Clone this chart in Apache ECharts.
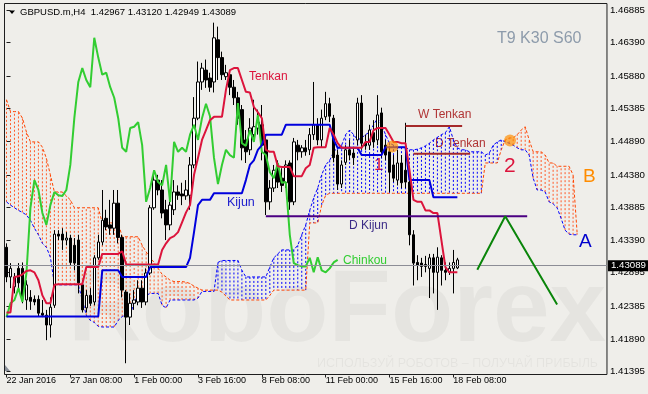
<!DOCTYPE html>
<html><head><meta charset="utf-8">
<script src="https://cdn.jsdelivr.net/npm/echarts@6/dist/echarts.min.js"></script>
<style>html,body{margin:0;padding:0;background:#efeeea;}#c{width:648px;height:394px;}</style>
</head><body><div id="c"></div>
<script>
// ---- data (GBPUSD.m H4) ----
// candles: [open, close, low, high]
const candles = [
[1.4328,1.4283,1.4275,1.4334],[1.4283,1.4296,1.4266,1.4304],[1.4268,1.4283,1.4258,1.4289],[1.4296,1.4274,1.4263,1.4304],
[1.4296,1.4251,1.4243,1.4305],[1.4248,1.4271,1.4233,1.4278],[1.4252,1.4246,1.4233,1.4263],[1.4249,1.4245,1.4240,1.4255],
[1.4249,1.4228,1.4223,1.4255],[1.4228,1.4225,1.4222,1.4248],[1.4225,1.4210,1.4187,1.4233],[1.4210,1.4237,1.4191,1.4252],
[1.4240,1.4348,1.4236,1.4354],[1.4348,1.4345,1.4339,1.4354],[1.4348,1.4339,1.4324,1.4357],[1.4339,1.4342,1.4331,1.4351],
[1.4342,1.4305,1.4301,1.4347],[1.4331,1.4304,1.4293,1.4342],[1.4339,1.4274,1.4258,1.4347],[1.4271,1.4233,1.4229,1.4278],
[1.4236,1.4255,1.4229,1.4263],[1.4255,1.4243,1.4239,1.4266],[1.4245,1.4312,1.4240,1.4316],[1.4312,1.4336,1.4309,1.4347],
[1.4336,1.4369,1.4331,1.4415],[1.4372,1.4359,1.4354,1.4385],[1.4362,1.4357,1.4347,1.4400],[1.4357,1.4395,1.4347,1.4415],
[1.4395,1.4343,1.4334,1.4415],[1.4343,1.4263,1.4252,1.4347],[1.4260,1.4222,1.4152,1.4263],[1.4222,1.4243,1.4210,1.4258],
[1.4243,1.4248,1.4233,1.4263],[1.4245,1.4266,1.4240,1.4278],[1.4266,1.4245,1.4236,1.4278],[1.4245,1.4289,1.4240,1.4296],
[1.4289,1.4388,1.4286,1.4392],[1.4388,1.4430,1.4385,1.4438],[1.4430,1.4415,1.4407,1.4438],[1.4415,1.4380,1.4372,1.4430],
[1.4385,1.4362,1.4339,1.4400],[1.4362,1.4392,1.4354,1.4407],[1.4385,1.4412,1.4377,1.4430],[1.4412,1.4407,1.4400,1.4422],
[1.4409,1.4406,1.4392,1.4426],[1.4406,1.4415,1.4400,1.4430],[1.4407,1.4453,1.4385,1.4465],[1.4453,1.4524,1.4448,1.4556],
[1.4524,1.4579,1.4521,1.4610],[1.4579,1.4600,1.4567,1.4608],[1.4597,1.4582,1.4570,1.4613],[1.4585,1.4571,1.4564,1.4593],
[1.4579,1.4646,1.4563,1.4669],[1.4643,1.4616,1.4582,1.4663],[1.4616,1.4590,1.4582,1.4625],[1.4587,1.4593,1.4582,1.4605],
[1.4590,1.4571,1.4559,1.4597],[1.4571,1.4555,1.4544,1.4582],[1.4555,1.4524,1.4514,1.4564],[1.4537,1.4479,1.4460,1.4544],
[1.4491,1.4473,1.4456,1.4506],[1.4476,1.4509,1.4468,1.4524],[1.4499,1.4511,1.4488,1.4552],[1.4509,1.4518,1.4499,1.4537],
[1.4514,1.4483,1.4460,1.4544],[1.4491,1.4397,1.4377,1.4499],[1.4397,1.4418,1.4385,1.4430],[1.4418,1.4445,1.4412,1.4453],
[1.4445,1.4427,1.4418,1.4460],[1.4433,1.4422,1.4412,1.4448],[1.4426,1.4453,1.4418,1.4460],[1.4456,1.4397,1.4385,1.4460],
[1.4397,1.4488,1.4392,1.4494],[1.4483,1.4473,1.4460,1.4491],[1.4473,1.4479,1.4464,1.4483],[1.4479,1.4473,1.4467,1.4491],
[1.4476,1.4499,1.4468,1.4509],[1.4499,1.4514,1.4491,1.4579],[1.4514,1.4491,1.4483,1.4524],[1.4491,1.4524,1.4479,1.4537],
[1.4526,1.4546,1.4521,1.4564],[1.4546,1.4527,1.4518,1.4555],[1.4524,1.4464,1.4457,1.4529],[1.4468,1.4424,1.4415,1.4476],
[1.4424,1.4453,1.4418,1.4460],[1.4457,1.4476,1.4453,1.4483],[1.4476,1.4468,1.4460,1.4491],[1.4471,1.4464,1.4453,1.4479],
[1.4491,1.4547,1.4483,1.4555],[1.4547,1.4486,1.4476,1.4559],[1.4486,1.4482,1.4476,1.4499],[1.4483,1.4506,1.4476,1.4514],
[1.4502,1.4488,1.4479,1.4521],[1.4491,1.4529,1.4483,1.4559],[1.4532,1.4473,1.4464,1.4540],[1.4483,1.4468,1.4460,1.4491],
[1.4473,1.4442,1.4412,1.4482],[1.4453,1.4433,1.4427,1.4468],[1.4430,1.4456,1.4422,1.4476],[1.4456,1.4426,1.4418,1.4468],
[1.4445,1.4427,1.4418,1.4517],[1.4427,1.4347,1.4331,1.4445],[1.4347,1.4304,1.4270,1.4354],[1.4305,1.4301,1.4278,1.4316],
[1.4304,1.4299,1.4283,1.4312],[1.4302,1.4299,1.4290,1.4315],[1.4296,1.4312,1.4251,1.4318],[1.4312,1.4290,1.4258,1.4318],
[1.4290,1.4313,1.4233,1.4328],[1.4312,1.4293,1.4270,1.4316],[1.4293,1.4290,1.4278,1.4305],[1.4290,1.4296,1.4286,1.4305],
[1.4296,1.4305,1.4258,1.4324],[1.42967,1.43089,1.42949,1.43120]
];
const tenkan = [
1.4229,1.4229,1.4283,1.4284,1.4287,1.4292,1.4293,1.4290,1.4278,1.4255,
1.4243,1.4243,1.4271,1.4272,1.4272,1.4272,1.4272,1.4272,1.4272,1.4272,
1.4298,1.4298,1.4298,1.4298,1.4318,1.4318,1.4318,1.4318,1.4318,1.4322,
1.4302,1.4302,1.4302,1.4302,1.4302,1.4302,1.4302,1.4302,1.4302,1.4324,
1.4334,1.4342,1.4345,1.4351,1.4366,1.4381,1.4392,1.4438,1.4464,1.4491,
1.4506,1.4521,1.4526,1.4526,1.4526,1.4567,1.4597,1.4600,1.4600,1.4582,
1.4564,1.4563,1.4541,1.4533,1.4524,1.4476,1.4473,1.4473,1.4451,1.4450,
1.4450,1.4450,1.4436,1.4436,1.4436,1.4448,1.4453,1.4479,1.4480,1.4480,
1.4480,1.4509,1.4499,1.4486,1.4479,1.4479,1.4479,1.4479,1.4479,1.4479,
1.4488,1.4488,1.4506,1.4509,1.4509,1.4509,1.4499,1.4488,1.4488,1.4486,
1.4486,1.4445,1.4400,1.4397,1.4397,1.4384,1.4384,1.4380,1.4380,1.4339,
1.4298,1.4290,1.4290,1.4290
];
const kijun = [
1.4223,1.4223,1.4223,1.4223,1.4223,1.4223,1.4223,1.4223,1.4223,1.4223,
1.4223,1.4223,1.4223,1.4223,1.4223,1.4223,1.4223,1.4223,1.4223,1.4223,
1.4223,1.4223,1.4223,1.4223,1.4293,1.4293,1.4293,1.4293,1.4293,1.4283,
1.4283,1.4283,1.4283,1.4283,1.4283,1.4283,1.4298,1.4298,1.4298,1.4298,
1.4298,1.4298,1.4298,1.4298,1.4298,1.4298,1.4312,1.4351,1.4392,1.4400,
1.4400,1.4400,1.4410,1.4410,1.4410,1.4410,1.4410,1.4410,1.4410,1.4410,
1.4430,1.4453,1.4460,1.4476,1.4483,1.4499,1.4499,1.4499,1.4499,1.4499,
1.4514,1.4514,1.4514,1.4514,1.4514,1.4514,1.4514,1.4514,1.4514,1.4514,
1.4514,1.4514,1.4491,1.4479,1.4479,1.4479,1.4479,1.4479,1.4479,1.4468,
1.4468,1.4468,1.4468,1.4468,1.4468,1.4480,1.4480,1.4480,1.4480,1.4480,
1.4480,1.4430,1.4430,1.4430,1.4430,1.4430,1.4430,1.4404,1.4404,1.4404,
1.4404,1.4404,1.4404,1.4404
];
const senkouA = [
1.4397,1.4392,1.4388,1.4384,1.4381,1.4377,1.4369,1.4357,1.4347,1.4334,
1.4328,1.4313,1.4272,1.4271,1.4271,1.4271,1.4271,1.4271,1.4271,1.4248,
1.4225,1.4217,1.4214,1.4208,1.4207,1.4207,1.4207,1.4207,1.4217,1.4223,
1.4225,1.4225,1.4245,1.4255,1.4255,1.4255,1.4258,1.4258,1.4258,1.4240,
1.4236,1.4248,1.4248,1.4248,1.4248,1.4248,1.4248,1.4248,1.4251,1.4261,
1.4261,1.4261,1.4261,1.4305,1.4308,1.4308,1.4308,1.4308,1.4308,1.4293,
1.4283,1.4283,1.4283,1.4283,1.4283,1.4283,1.4298,1.4312,1.4318,1.4324,
1.4324,1.4324,1.4324,1.4331,1.4347,1.4362,1.4384,1.4403,1.4418,1.4438,
1.4453,1.4460,1.4473,1.4479,1.4483,1.4499,1.4506,1.4499,1.4491,1.4494,
1.4499,1.4503,1.4514,1.4524,1.4514,1.4499,1.4486,1.4483,1.4480,1.4480,
1.4480,1.4476,1.4476,1.4477,1.4479,1.4482,1.4486,1.4491,1.4495,1.4499,
1.4502,1.4511,1.4491,1.4479,1.4476,1.4476,1.4473,1.4473,1.4473,1.4473,
1.4468,1.4471,1.4483,1.4488,1.4491,1.4488,1.4486,1.4483,1.4479,1.4476,
1.4476,1.4468,1.4433,1.4415,1.4415,1.4412,1.4397,1.4394,1.4388,1.4372,
1.4354,1.4348,1.4347,1.4347
];
const senkouB = [
1.4552,1.4534,1.4534,1.4534,1.4524,1.4503,1.4488,1.4488,1.4488,1.4480,
1.4463,1.4438,1.4412,1.4412,1.4412,1.4406,1.4400,1.4388,1.4388,1.4388,
1.4388,1.4388,1.4388,1.4388,1.4365,1.4365,1.4365,1.4365,1.4365,1.4344,
1.4344,1.4344,1.4344,1.4344,1.4331,1.4321,1.4312,1.4305,1.4296,1.4287,
1.4283,1.4278,1.4276,1.4276,1.4276,1.4275,1.4273,1.4269,1.4266,1.4263,
1.4263,1.4263,1.4263,1.4263,1.4260,1.4254,1.4248,1.4248,1.4248,1.4248,
1.4248,1.4248,1.4248,1.4248,1.4248,1.4248,1.4255,1.4263,1.4263,1.4263,
1.4263,1.4263,1.4263,1.4263,1.4263,1.4263,1.4365,1.4365,1.4365,1.4392,
1.4407,1.4410,1.4410,1.4410,1.4410,1.4410,1.4410,1.4410,1.4410,1.4410,
1.4410,1.4410,1.4410,1.4410,1.4410,1.4410,1.4410,1.4410,1.4410,1.4410,
1.4410,1.4410,1.4410,1.4410,1.4410,1.4410,1.4410,1.4410,1.4410,1.4410,
1.4410,1.4410,1.4410,1.4410,1.4410,1.4410,1.4410,1.4410,1.4410,1.4410,
1.4456,1.4456,1.4456,1.4456,1.4476,1.4491,1.4494,1.4494,1.4499,1.4506,
1.4511,1.4491,1.4473,1.4473,1.4473,1.4468,1.4456,1.4456,1.4451,1.4451,
1.4451,1.4451,1.4438,1.4351
];
const chinkouShift = 30;        // Chinkou = close drawn 30 bars back
const slotCount = 151;          // bar slots on the time axis (incl. future)
const xTickStep = 16;
const xTickLabels = ['22 Jan 2016','27 Jan 08:00','1 Feb 00:00','3 Feb 16:00','8 Feb 08:00','11 Feb 00:00','15 Feb 16:00','18 Feb 08:00'];
const yTickLabels = [1.41395,1.41890,1.42385,1.42895,1.43390,1.43885,1.44380,1.44890,1.45385,1.45880,1.46390,1.46885];
const yMin = 1.41349, yMax = 1.46981;
const lastPrice = 1.43089;
// drawn annotations: [barIndex, price]
const wTenkanLine = [[100,1.4512],[114.2,1.4512]];
const dTenkanLine = [[102,1.4470],[116.2,1.4470]];
const dKijunLine  = [[65,1.4375],[130.5,1.4375]];
const zigzag      = [[118,1.4294],[125,1.4375],[138,1.4241]];
const circles     = [[96.7,1.4481],[126.2,1.4490]];

// ---- chart ----
const FONT = 'Liberation Sans';
const slots = Array.from({length: slotCount}, (_, i) => String(i));
const chinkou = candles.slice(chinkouShift).map(c => c[1]);
// Kumo hatch: one dotted vertical segment per bar between Senkou A and B
const hatchBear = [], hatchBull = [];
senkouA.forEach((a, i) => {
  const b = senkouB[i];
  (b > a ? hatchBear : hatchBull).push([i, a], [i, b], '-');
});
const last = candles[candles.length - 1];
const titleText = 'GBPUSD.m,H4  ' + [last[0], last[3], last[2], last[1]].map(v => v.toFixed(5)).join(' ');
const showTick = (i) => i % xTickStep === 0 && i / xTickStep < xTickLabels.length;

const chart = echarts.init(document.getElementById('c'), null, {renderer: 'canvas'});
const txt = (x, y, t, size, color, extra) => Object.assign({
  type: 'text', x: x, y: y, silent: true,
  style: Object.assign({text: t, fontSize: size, fontFamily: FONT, fill: color, textVerticalAlign: 'middle'}, extra || {})
});
const plain = (extra) => Object.assign({showSymbol: false, symbol: 'none', silent: true, emphasis: {disabled: true}}, extra);
chart.setOption({
  animation: false,
  backgroundColor: '#efeeea',
  textStyle: {fontFamily: FONT},
  grid: {left: 4.5, right: 39.5, top: 3.5, bottom: 19.5, show: true, borderColor: '#1e1e1e', borderWidth: 1, backgroundColor: 'transparent'},
  xAxis: [{
    type: 'category', data: slots, boundaryGap: true,
    axisLine: {show: false},
    axisTick: {show: true, alignWithLabel: true, interval: showTick, length: 3, lineStyle: {color: '#1e1e1e'}},
    axisLabel: {interval: showTick, formatter: (v, i) => xTickLabels[i / xTickStep], align: 'left', margin: 2, fontSize: 9, color: '#000', fontFamily: FONT},
    splitLine: {show: false}
  }, {
    type: 'value', min: -0.5, max: slotCount - 0.5, show: false
  }],
  yAxis: {
    type: 'value', position: 'right', min: yMin, max: yMax, scale: true,
    axisLine: {show: false},
    axisTick: {show: true, customValues: yTickLabels, length: 4, lineStyle: {color: '#1e1e1e'}},
    axisLabel: {customValues: yTickLabels, formatter: v => v.toFixed(5), margin: 3, fontSize: 9.7, color: '#000', fontFamily: FONT},
    splitLine: {show: false}
  },
  graphic: [
    txt(68, 313, 'RoboForex', 102, 'rgba(0,0,0,0.04)', {fontWeight: 'bold'}),
    txt(317, 364, 'ИСПОЛЬЗУЙ РОБОТОВ – ПОЛУЧАЙ ПРИБЫЛЬ', 12.5, 'rgba(0,0,0,0.045)'),
    {type: 'polygon', silent: true, shape: {points: [[9,10.5],[15,10.5],[12,14]]}, style: {fill: '#000'}},
    txt(20, 12.5, titleText, 9.5, '#000'),
    txt(497, 38.5, 'T9 K30 S60', 16, '#8d9bab'),
    txt(249, 77, 'Tenkan', 12, '#dc143c'),
    txt(227, 203, 'Kijun', 12.5, '#1a1acd'),
    txt(343, 261, 'Chinkou', 12, '#32cd32'),
    txt(349, 226, 'D Kijun', 12, '#3a2a86'),
    txt(418, 115, 'W Tenkan', 12, '#b03434'),
    txt(435, 144, 'D Tenkan', 12, '#b03434'),
    txt(374, 165, '1', 17, '#dc143c'),
    txt(504, 166, '2', 21, '#dc143c'),
    txt(579, 242, 'A', 19, '#0000cd'),
    txt(583, 177, 'B', 19, '#ff8c00'),
    {type: 'polygon', silent: true, shape: {points: [[5,365],[5,371],[10,371]]}, style: {fill: '#8a909a'}}
  ],
  series: [
    Object.assign(plain({type: 'line', name: 'Kumo bear', xAxisIndex: 1, z: 1, data: hatchBear,
      lineStyle: {color: '#ff5a28', width: 1, type: [2, 2]}})),
    Object.assign(plain({type: 'line', name: 'Kumo bull', xAxisIndex: 1, z: 1, data: hatchBull,
      lineStyle: {color: '#0000ff', width: 1, type: [2, 2]}})),
    plain({type: 'line', name: 'Senkou A', z: 2, data: senkouA, lineStyle: {color: '#0000ff', width: 1, type: [3, 2]}}),
    plain({type: 'line', name: 'Senkou B', z: 2, data: senkouB, lineStyle: {color: '#ff4500', width: 1, type: [3, 2]}}),
    {
      type: 'candlestick', name: 'GBPUSD', z: 3, barWidth: 3, silent: true,
      data: candles.map(c => [c[0], c[1], c[2], c[3]]),
      itemStyle: {color: '#ffffff', color0: '#000000', borderColor: '#000000', borderColor0: '#000000', borderWidth: 1},
      markLine: {
        silent: true, symbol: ['none', 'none'],
        data: [{yAxis: lastPrice}],
        lineStyle: {color: '#8c8d96', width: 1, type: 'solid'},
        label: {show: true, position: 'end', distance: 1, formatter: lastPrice.toFixed(5),
          backgroundColor: '#000', color: '#fff', padding: [1, 3, 0, 3], fontSize: 9.7, fontFamily: FONT}
      }
    },
    plain({type: 'line', name: 'Chinkou', z: 4, data: chinkou, lineStyle: {color: '#32cd32', width: 2}}),
    plain({type: 'line', name: 'Kijun', z: 4, data: kijun, lineStyle: {color: '#0000dd', width: 2}}),
    plain({type: 'line', name: 'Tenkan', z: 4, data: tenkan, lineStyle: {color: '#dc143c', width: 2}}),
    plain({type: 'line', xAxisIndex: 1, z: 5, data: dKijunLine, lineStyle: {color: '#4b0082', width: 2}}),
    plain({type: 'line', xAxisIndex: 1, z: 5, data: wTenkanLine, lineStyle: {color: '#a52a2a', width: 2}}),
    plain({type: 'line', xAxisIndex: 1, z: 5, data: dTenkanLine, lineStyle: {color: '#a52a2a', width: 2}}),
    plain({type: 'line', xAxisIndex: 1, z: 5, data: zigzag, lineStyle: {color: '#0a850a', width: 2}}),
    {type: 'scatter', xAxisIndex: 1, z: 5, silent: true, data: circles, symbolSize: 12, itemStyle: {color: 'rgba(255,140,0,0.85)'}}
  ]
});
</script>
</body></html>
